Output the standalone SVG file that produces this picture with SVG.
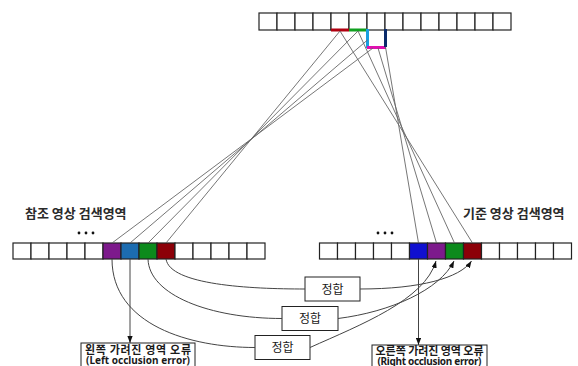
<svg xmlns="http://www.w3.org/2000/svg" width="578" height="366" viewBox="0 0 578 366">
<defs>
<style>
.cell{fill:#fff;stroke:#222;stroke-width:1.2}
.box{fill:#fff;stroke:#222;stroke-width:1}
.ray{fill:none;stroke:#666;stroke-width:0.9}
.cur{fill:none;stroke:#444;stroke-width:1}
.t{font-family:"Noto Sans CJK KR","Noto Sans",sans-serif;fill:#1a1a1a}
.lbl{font-size:13px;font-weight:bold;fill:#2a2a2a}
.bx{font-size:12px;text-anchor:middle}
.er{font-size:11px;text-anchor:middle;font-weight:bold}
.en{font-family:"Noto Sans","Liberation Sans",sans-serif;font-size:10px;text-anchor:middle;fill:#1a1a1a;font-weight:bold}
.dot{fill:#111}
</style>
<marker id="ah" viewBox="0 0 8 6" refX="8" refY="3" markerWidth="7" markerHeight="5.5" markerUnits="userSpaceOnUse" orient="auto">
<path d="M0,0 L8,3 L0,6 z" fill="#111"/>
</marker>
</defs>
<rect width="578" height="366" fill="#fff"/>

<g id="top-array">
<rect class="cell" x="259" y="13" width="18" height="17"/>
<rect class="cell" x="277" y="13" width="18" height="17"/>
<rect class="cell" x="295" y="13" width="18" height="17"/>
<rect class="cell" x="313" y="13" width="18" height="17"/>
<rect class="cell" x="331" y="13" width="18" height="17"/>
<rect class="cell" x="349" y="13" width="18" height="17"/>
<rect class="cell" x="367" y="13" width="18" height="17"/>
<rect class="cell" x="385" y="13" width="18" height="17"/>
<rect class="cell" x="403" y="13" width="18" height="17"/>
<rect class="cell" x="421" y="13" width="18" height="17"/>
<rect class="cell" x="439" y="13" width="18" height="17"/>
<rect class="cell" x="457" y="13" width="18" height="17"/>
<rect class="cell" x="475" y="13" width="18" height="17"/>
<rect class="cell" x="493" y="13" width="18" height="17"/>
<rect x="331" y="28.5" width="18" height="3" fill="#b00010"/>
<rect x="349" y="28.5" width="18" height="3" fill="#10a020"/>
<rect x="366" y="29" width="3" height="19" fill="#1a9fe0"/>
<rect x="367" y="46" width="19" height="3" fill="#e010b0"/>
<rect x="384" y="29" width="3" height="18" fill="#0a2a6a"/>
</g>

<g id="left-array">
<text class="t lbl" x="25" y="218">참조 영상 검색영역</text>
<circle class="dot" cx="79" cy="233" r="1.4"/>
<circle class="dot" cx="86" cy="233" r="1.4"/>
<circle class="dot" cx="93" cy="233" r="1.4"/>
<rect class="cell" x="13" y="243" width="18" height="16"/>
<rect class="cell" x="31" y="243" width="18" height="16"/>
<rect class="cell" x="49" y="243" width="18" height="16"/>
<rect class="cell" x="67" y="243" width="18" height="16"/>
<rect class="cell" x="85" y="243" width="18" height="16"/>
<rect class="cell" x="103" y="243" width="18" height="16" style="fill:#7d1a8c"/>
<rect class="cell" x="121" y="243" width="18" height="16" style="fill:#1c6cb0"/>
<rect class="cell" x="139" y="243" width="18" height="16" style="fill:#0c8a1c"/>
<rect class="cell" x="157" y="243" width="18" height="16" style="fill:#8c0008"/>
<rect class="cell" x="175" y="243" width="18" height="16"/>
<rect class="cell" x="193" y="243" width="18" height="16"/>
<rect class="cell" x="211" y="243" width="18" height="16"/>
<rect class="cell" x="229" y="243" width="18" height="16"/>
<rect class="cell" x="247" y="243" width="18" height="16"/>
</g>

<g id="right-array">
<text class="t lbl" x="463" y="218">기준 영상 검색영역</text>
<circle class="dot" cx="378" cy="233" r="1.4"/>
<circle class="dot" cx="385" cy="233" r="1.4"/>
<circle class="dot" cx="392" cy="233" r="1.4"/>
<rect class="cell" x="319.5" y="243" width="18" height="16"/>
<rect class="cell" x="337.5" y="243" width="18" height="16"/>
<rect class="cell" x="355.5" y="243" width="18" height="16"/>
<rect class="cell" x="373.5" y="243" width="18" height="16"/>
<rect class="cell" x="391.5" y="243" width="18" height="16"/>
<rect class="cell" x="409.5" y="243" width="18" height="16" style="fill:#1010d0"/>
<rect class="cell" x="427.5" y="243" width="18" height="16" style="fill:#7d1a8c"/>
<rect class="cell" x="445.5" y="243" width="18" height="16" style="fill:#0c8a1c"/>
<rect class="cell" x="463.5" y="243" width="18" height="16" style="fill:#8c0008"/>
<rect class="cell" x="481.5" y="243" width="18" height="16"/>
<rect class="cell" x="499.5" y="243" width="18" height="16"/>
<rect class="cell" x="517.5" y="243" width="18" height="16"/>
<rect class="cell" x="535.5" y="243" width="18" height="16"/>
<rect class="cell" x="553.5" y="243" width="18" height="16"/>
</g>

<g id="match1">
<rect class="box" x="305" y="277" width="55" height="24"/>
<text class="t bx" x="332.5" y="293.5">정합</text>
</g>
<g id="match2">
<rect class="box" x="282" y="306.5" width="56" height="24"/>
<text class="t bx" x="310" y="323">정합</text>
</g>
<g id="match3">
<rect class="box" x="255" y="335.5" width="55" height="24"/>
<text class="t bx" x="282.5" y="352">정합</text>
</g>

<g id="left-error">
<rect class="box" x="81" y="343" width="114" height="30"/>
<text class="t er" x="138" y="353.5" textLength="106" lengthAdjust="spacing">왼쪽 가려진 영역 오류</text>
<text class="en" x="138" y="364" textLength="104" lengthAdjust="spacing">(Left occlusion error)</text>
</g>
<g id="right-error">
<rect class="box" x="372" y="345" width="115" height="30"/>
<text class="t er" x="429.5" y="354.5" textLength="108" lengthAdjust="spacing">오른쪽 가려진 영역 오류</text>
<text class="en" x="429.5" y="364.5" textLength="104" lengthAdjust="spacing">(Right occlusion error)</text>
</g>

<g id="connectors">
<line class="ray" x1="340" y1="31" x2="166" y2="243"/>
<line class="ray" x1="358" y1="31" x2="148" y2="243"/>
<line class="ray" x1="367.5" y1="40" x2="130" y2="243"/>
<line class="ray" x1="373" y1="48" x2="112" y2="243"/>
<line class="ray" x1="340" y1="31" x2="472.5" y2="243"/>
<line class="ray" x1="358" y1="31" x2="454.5" y2="243"/>
<line class="ray" x1="378" y1="48" x2="436.5" y2="243"/>
<line class="ray" x1="385.5" y1="47" x2="418.5" y2="243"/>
<path class="cur" d="M112,259 C112,325 190,347.5 255,347.5"/>
<path class="cur" d="M148,259 C149,295 210,318.5 282,318.5"/>
<path class="cur" d="M166,259 C170,285 250,289 305,289"/>
<path class="cur" d="M360,289 C420,289 460,278 471.5,261" marker-end="url(#ah)"/>
<path class="cur" d="M338,318.5 C390,312 440,290 454,261" marker-end="url(#ah)"/>
<path class="cur" d="M310,347.5 C360,325 425,300 436,261" marker-end="url(#ah)"/>
<path class="cur" d="M130,259 V343" marker-end="url(#ah)"/>
<path class="cur" d="M418.5,259 V345" marker-end="url(#ah)"/>
</g>
</svg>
